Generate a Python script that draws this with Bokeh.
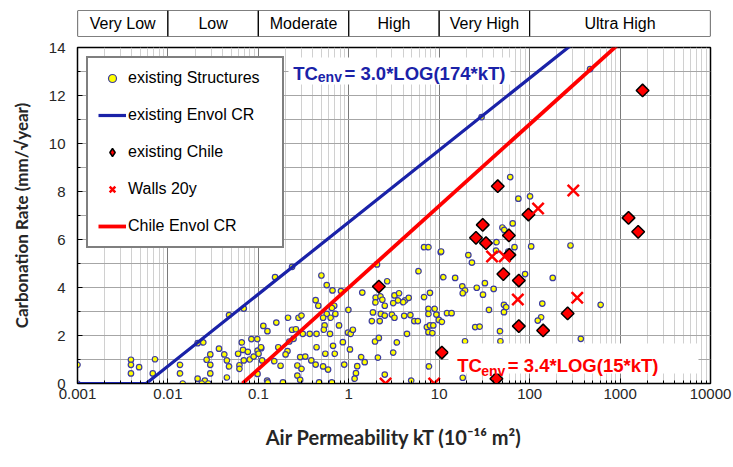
import math
from bokeh.plotting import figure
from bokeh.models import (Range1d, FixedTicker, Legend, LegendItem, Label,
                          BoxAnnotation, ColumnDataSource, NumeralTickFormatter)
from bokeh.layouts import column
from bokeh.core.properties import value
from bokeh.embed import file_html
from bokeh.resources import INLINE

# ---------------- data ----------------
band_edges = [0.001, 0.01, 0.1, 1, 10, 100, 10000]
band_labels = ["Very Low", "Low", "Moderate", "High", "Very High", "Ultra High"]

x_ticks = [0.001, 0.01, 0.1, 1, 10, 100, 1000, 10000]
y_ticks = [0, 2, 4, 6, 8, 10, 12, 14]

# existing Structures (kT, carbonation rate)
struct_kt = [
    0.001, 0.001, 0.0039, 0.0039, 0.0039, 0.0048, 0.0072, 0.0068, 0.0474, 0.069,
    0.0213, 0.0246, 0.0136, 0.0136, 0.0146, 0.0213, 0.0256, 0.0294, 0.0294, 0.0294,
    0.0268, 0.0367, 0.042, 0.0449, 0.0449, 0.0474, 0.0597, 0.0656, 0.0676, 0.0618,
    0.0618, 0.069, 0.0765, 0.0804, 0.0838, 0.0887, 0.0973, 0.098, 0.1005, 0.1075,
    0.1135, 0.126, 0.11, 0.098, 0.125, 0.0237, 0.028,
    0.236, 0.153, 0.498, 0.57, 0.66, 0.82, 0.43, 0.46, 0.69, 0.65,
    0.57, 0.52, 0.63, 0.71, 0.54, 0.78, 0.99, 0.213, 0.278, 0.30,
    0.158, 0.236, 0.26, 0.31, 0.37, 0.44, 0.62, 0.53, 0.98, 1.05,
    1.11, 0.245, 0.22, 0.166, 0.21, 0.20, 0.107, 0.44, 0.67, 0.86,
    0.55, 0.70, 1.03, 0.29, 0.33, 0.385, 0.43, 0.52, 0.59, 0.89,
    0.27, 0.30, 0.27, 0.176, 0.15, 1.24, 1.20, 1.16, 1.37, 1.50,
    0.127, 0.187, 0.29, 0.47, 0.65,
    2.05, 2.66, 1.41, 1.98, 2.24, 2.35, 1.97, 2.5, 3.2, 3.6,
    3.5, 3.1, 4.2, 4.6, 4.0, 1.85, 2.26, 2.5, 3.0, 3.2,
    1.8, 2.2, 4.1, 4.8, 5.3, 5.8, 4.4, 1.95, 2.15, 3.4,
    2.1, 3.1, 2.5, 4.9, 6.8, 7.6, 5.9, 10.4, 6.8, 7.9,
    7.6, 8.9, 7.6, 9.3, 9.9, 7.3, 7.9, 8.6, 7.6, 8.4, 7.7,
    61, 75, 101, 50, 52.5, 65, 43, 68, 42.5, 58,
    104, 283, 10.5, 21, 23, 11.1, 15, 89, 180, 32,
    40, 26, 18, 19.3, 18.2, 30.5, 52, 55, 52, 35.5,
    138, 134, 123, 610, 12.2, 13.7, 10.7, 25, 28, 47,
    19.3, 47.5, 368, 18.2, 466, 29.4,
]
struct_cr = [
    0.78, 0.0, 0.99, 0.78, 0.42, 0.68, 1.01, 0.42, 2.85, 3.12,
    1.68, 1.71, 0.78, 0.42, 0.0, 0.2, 0.12, 1.21, 0.78, 0.42,
    0.99, 1.45, 1.21, 0.96, 0.25, 0.71, 1.24, 1.71, 1.40, 0.76,
    0.61, 0.96, 1.32, 1.0, 1.85, 1.12, 1.85, 1.37, 1.24, 1.47,
    2.4, 2.18, 0.96, 0.40, 0.12, 0.0, 0.0,
    4.86, 4.43, 4.5, 4.1, 3.88, 3.85, 3.47, 3.24, 3.24, 3.15,
    2.9, 2.74, 2.74, 2.9, 2.42, 2.42, 3.07, 2.74, 2.74, 2.83,
    2.54, 2.24, 2.26, 2.07, 2.07, 2.07, 2.07, 2.24, 2.12, 2.07,
    2.24, 1.86, 1.75, 1.51, 1.35, 1.21, 1.51, 1.51, 1.57, 1.72,
    1.24, 1.24, 1.42, 1.10, 1.12, 0.96, 0.79, 0.71, 0.58, 0.79,
    0.75, 0.61, 0.33, 0.74, 0.93, 0.72, 0.43, 0.20, 1.10, 0.89,
    0.05, 0.05, 0.15, 0.05, 0.05,
    4.96, 4.26, 3.79, 3.58, 3.63, 3.49, 3.38, 3.24, 3.67, 3.76,
    3.46, 3.35, 3.46, 3.57, 3.39, 2.96, 2.90, 2.83, 2.87, 2.74,
    2.6, 2.6, 2.82, 2.85, 2.6, 2.6, 2.07, 1.75, 1.9, 1.71,
    1.08, 1.29, 0.37, 0.12, 5.68, 5.68, 4.68, 5.47, 3.6, 3.78,
    3.11, 3.11, 2.9, 2.87, 2.65, 2.35, 2.42, 2.42, 2.14, 2.10, 0.71,
    8.6, 7.7, 7.8, 6.5, 6.4, 6.67, 5.89, 5.68, 5.54, 5.5,
    5.71, 5.75, 5.5, 5.35, 5.04, 4.43, 4.4, 4.56, 4.4, 4.18,
    3.94, 3.99, 4.05, 3.88, 3.76, 3.7, 3.28, 3.18, 2.97, 3.07,
    3.33, 2.76, 2.62, 3.28, 2.93, 2.93, 2.57, 2.35, 2.37, 2.18,
    1.76, 1.76, 1.86, 0.24, 13.1, 11.1,
]

# existing Chile
chile_kt = [2.15, 44.4, 97, 30.3, 25.5, 59, 32.9, 59.7, 51.2, 75.9,
            75.9, 141, 263, 10.7, 42.9, 1774, 1240, 1585]
chile_cr = [4.04, 8.22, 7.04, 6.61, 6.07, 6.17, 5.85, 5.36, 4.56, 4.29,
            2.39, 2.21, 2.92, 1.29, 0.2, 12.21, 6.9, 6.32]

# Walls 20y
walls_kt = [304, 124, 38.4, 53, 74, 336, 2.55, 8.8]
walls_cr = [8.04, 7.29, 5.29, 5.29, 3.5, 3.57, 0.0, 0.0]

# envelope equations  TC = a * LOG(b * kT)
env_a, env_b = 3.0, 174
chile_a, chile_b = 3.4, 15
env_kt = [0.001, 1 / env_b, 1000]
chile_env_kt = [1 / chile_b, 3000]
env_cr = [max(0.0, env_a * math.log10(env_b * k)) for k in env_kt]
chile_env_cr = [max(0.0, chile_a * math.log10(chile_b * k)) for k in chile_env_kt]

# ---------------- styling ----------------
BLUE = "#1a22a8"
RED = "#ff0000"
FONT = "Liberation Sans"
LEFT, RIGHT = 77, 23
FRAME_W = 633
W = LEFT + FRAME_W + RIGHT

x_range = Range1d(0.001, 10000)

# header band
band = figure(width=W, height=38, x_axis_type="log", x_range=x_range,
              y_range=Range1d(0, 1), x_axis_location=None, y_axis_location=None,
              toolbar_location=None, output_backend="svg",
              min_border_left=LEFT, min_border_right=RIGHT,
              min_border_top=10, min_border_bottom=2)
band.xgrid.visible = False
band.ygrid.visible = False
band.outline_line_color = None
band.background_fill_color = "white"
band_src = ColumnDataSource(dict(
    left=band_edges[:-1], right=band_edges[1:],
    cx=[math.sqrt(a * b) for a, b in zip(band_edges[:-1], band_edges[1:])],
    label=band_labels))
band.quad(left="left", right="right", bottom=0, top=1, source=band_src,
          fill_color="white", line_color="black", line_width=1.2)
band.text(x="cx", y=0.5, text="label", source=band_src,
          text_align="center", text_baseline="middle",
          text_font=value(FONT), text_font_size="16px", text_color="black")

# main plot
p = figure(width=W, height=420, x_axis_type="log", x_range=x_range,
           y_range=Range1d(0, 14), toolbar_location=None, output_backend="svg",
           min_border_left=LEFT, min_border_right=RIGHT,
           min_border_top=9, min_border_bottom=75)

minor_x = [m * 10.0 ** e for e in range(-3, 4) for m in range(2, 10)]
p.xaxis.ticker = FixedTicker(ticks=x_ticks, minor_ticks=minor_x)
p.xaxis.formatter = NumeralTickFormatter(format="0.[000]")
p.yaxis.ticker = FixedTicker(ticks=y_ticks, minor_ticks=[1, 3, 5, 7, 9, 11, 13])

p.xgrid.grid_line_color = "#7a7a7a"
p.xgrid.minor_grid_line_color = "#d0d0d0"
p.ygrid.grid_line_color = "#a6a6a6"
p.ygrid.minor_grid_line_color = "#a6a6a6"

p.outline_line_color = "black"
p.outline_line_width = 1.5
for ax in (p.xaxis, p.yaxis):
    ax.axis_line_color = "black"
    ax.major_tick_in = 5
    ax.major_tick_out = 0
    ax.minor_tick_in = 3
    ax.minor_tick_out = 0
    ax.major_tick_line_color = "black"
    ax.minor_tick_line_color = "black"
    ax.major_label_text_font = FONT
    ax.major_label_text_font_size = "15px"
    ax.major_label_text_color = "#262626"
    ax.axis_label_text_font = "Lato"
    ax.axis_label_text_font_style = "bold"
    ax.axis_label_text_color = "#262626"

p.xaxis.axis_label_text_font_size = "20px"
p.yaxis.axis_label_text_font_size = "17px"
p.xaxis.major_label_standoff = 5
p.yaxis.major_label_standoff = 12
p.xaxis.axis_label = "Air Permeability kT (10\u207b\u00b9\u2076 m\u00b2)"
p.yaxis.axis_label = "Carbonation Rate (mm/\u221ayear)"
p.xaxis.axis_label_standoff = 23
p.yaxis.axis_label_standoff = 14

r_struct = p.scatter(struct_kt, struct_cr, marker="circle", size=5.5,
                     fill_color="#ffff00", line_color="#3c3ca0", line_width=1.2)
r_env = p.line(env_kt, env_cr, line_color=BLUE, line_width=3.2)
r_cenv = p.line(chile_env_kt, chile_env_cr, line_color=RED, line_width=3.8)
# legend swatch for the diamonds: one point hidden under the first diamond
r_chile_key = p.scatter(x=chile_kt[:1], y=chile_cr[:1], marker="diamond", size=8,
                        fill_color=RED, line_color="black", line_width=1.5)
r_chile = p.scatter(chile_kt, chile_cr, marker="square", angle=math.pi / 4,
                    size=9, fill_color=RED, line_color="black", line_width=1.5)
r_walls = p.scatter(walls_kt, walls_cr, marker="x", size=16,
                    line_color=RED, line_width=2.5)

legend = Legend(items=[
    LegendItem(label="existing Structures", renderers=[r_struct]),
    LegendItem(label="existing Envol CR", renderers=[r_env]),
    LegendItem(label="existing Chile", renderers=[r_chile_key]),
    LegendItem(label="Walls 20y", renderers=[r_walls]),
    LegendItem(label="Chile Envol CR", renderers=[r_cenv]),
], location="top_left", margin=9, padding=10, spacing=17,
    label_height=20, glyph_height=20, glyph_width=28, label_standoff=2,
    label_width=144,
    label_text_font=FONT, label_text_font_size="16px", label_text_color="black",
    border_line_color="black", border_line_width=2,
    background_fill_color="white", background_fill_alpha=1)
p.add_layout(legend)

# equation annotations
p.add_layout(BoxAnnotation(left=0.2154, right=61.4, bottom=12.46, top=13.58,
                           fill_color="white", fill_alpha=1, line_color=None))
p.add_layout(BoxAnnotation(left=12.66, right=7365, bottom=0.42, top=1.67,
                           fill_color="white", fill_alpha=1, line_color=None))


def eq_label(x, y, text, color, size):
    p.add_layout(Label(x=x, y=y, text=text, text_color=color,
                       text_font=FONT, text_font_style="bold",
                       text_font_size=size, text_baseline="alphabetic"))


eq_label(0.2428, 12.9, "TC", BLUE, "18.5px")
eq_label(0.4543, 12.79, "env", BLUE, "14px")
eq_label(0.8966, 12.9, "= 3.0*LOG(174*kT)", BLUE, "18.5px")
eq_label(15.81, 0.75, "TC", RED, "18.5px")
eq_label(29.13, 0.54, "env", RED, "14px")
eq_label(57.33, 0.75, "= 3.4*LOG(15*kT)", RED, "18.5px")

layout = column(band, p, spacing=0)
open("out.html", "w").write(file_html(layout, INLINE))
